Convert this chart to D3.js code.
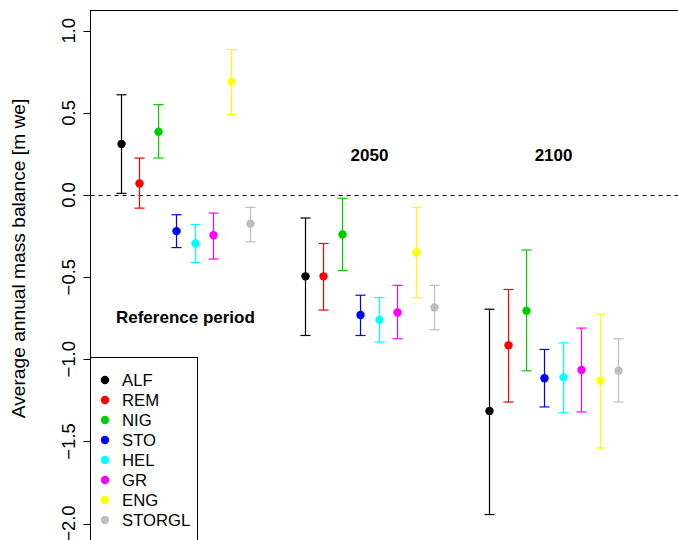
<!DOCTYPE html>
<html>
<head>
<meta charset="utf-8">
<script src="https://cdn.jsdelivr.net/npm/d3@7"></script>
<style>
  html, body { margin: 0; padding: 0; background: #fff; }
  svg { display: block; font-family: "Liberation Sans", Arial, sans-serif; }
</style>
</head>
<body>
<div id="chart"></div>
<script>
// ---- data ----
const glaciers = ["ALF", "REM", "NIG", "STO", "HEL", "GR", "ENG", "STORGL"];
const colors = ["#000000", "#FF0000", "#00CD00", "#0000FF", "#00FFFF", "#FF00FF", "#FFFF00", "#BEBEBE"];
const periods = ["Reference period", "2050", "2100"];

const refMean = [0.31, 0.07, 0.385, -0.22, -0.295, -0.245, 0.69, -0.175];
const refLow  = [0.01, -0.08, 0.225, -0.32, -0.41, -0.39, 0.49, -0.285];
const refHigh = [0.61, 0.225, 0.55, -0.12, -0.18, -0.11, 0.885, -0.075];

const m2050Mean = [-0.495, -0.495, -0.24, -0.73, -0.76, -0.715, -0.35, -0.685];
const m2050Low  = [-0.855, -0.70, -0.46, -0.855, -0.895, -0.875, -0.625, -0.82];
const m2050High = [-0.14, -0.295, -0.02, -0.61, -0.625, -0.55, -0.075, -0.55];

const m2100Mean = [-1.315, -0.915, -0.705, -1.115, -1.11, -1.065, -1.13, -1.07];
const m2100Low  = [-1.945, -1.26, -1.07, -1.29, -1.325, -1.32, -1.54, -1.26];
const m2100High = [-0.695, -0.575, -0.335, -0.94, -0.90, -0.81, -0.725, -0.875];

const yTicks = [1.0, 0.5, 0.0, -0.5, -1.0, -1.5, -2.0];
const yLabel = "Average annual mass balance [m we]";

// ---- build records ----
const means = [refMean, m2050Mean, m2100Mean];
const lows = [refLow, m2050Low, m2100Low];
const highs = [refHigh, m2050High, m2100High];
const records = [];
periods.forEach((p, pi) => {
  glaciers.forEach((g, gi) => {
    records.push({ period: pi, glacier: gi, pos: 1 + 10 * pi + gi,
      mean: means[pi][gi], low: lows[pi][gi], high: highs[pi][gi], color: colors[gi] });
  });
});

// ---- layout ----
const W = 678, H = 540;
const svg = d3.select("#chart").append("svg").attr("width", W).attr("height", H);

const x = d3.scaleLinear().domain([1, 28]).range([121, 618]);
const y = d3.scaleLinear().domain([-2, 1]).range([523.6, 30.7]);

const plotLeft = 90.5, plotTop = 10.5;

// zero dashed line
svg.append("line")
  .attr("x1", plotLeft).attr("x2", W + 10)
  .attr("y1", Math.round(y(0)) + 0.5).attr("y2", Math.round(y(0)) + 0.5)
  .attr("stroke", "#000").attr("stroke-width", 1).attr("stroke-dasharray", "4,4");

// error bars
const capHalf = 5;
const bars = svg.append("g").selectAll("g").data(records).join("g");
bars.append("line")
  .attr("x1", d => Math.round(x(d.pos)) + 0.5).attr("x2", d => Math.round(x(d.pos)) + 0.5)
  .attr("y1", d => y(d.low)).attr("y2", d => y(d.high))
  .attr("stroke", d => d.color).attr("stroke-width", 1.2);
bars.append("line")
  .attr("x1", d => Math.round(x(d.pos)) + 0.5 - capHalf).attr("x2", d => Math.round(x(d.pos)) + 0.5 + capHalf)
  .attr("y1", d => y(d.high)).attr("y2", d => y(d.high))
  .attr("stroke", d => d.color).attr("stroke-width", 1.2);
bars.append("line")
  .attr("x1", d => Math.round(x(d.pos)) + 0.5 - capHalf).attr("x2", d => Math.round(x(d.pos)) + 0.5 + capHalf)
  .attr("y1", d => y(d.low)).attr("y2", d => y(d.low))
  .attr("stroke", d => d.color).attr("stroke-width", 1.2);
bars.append("circle")
  .attr("cx", d => Math.round(x(d.pos)) + 0.5).attr("cy", d => y(d.mean))
  .attr("r", 4.2).attr("fill", d => d.color);

// period labels
const periodLabelY = [-0.745, 0.245, 0.245];
svg.append("g").selectAll("text").data(periods).join("text")
  .attr("x", (d, i) => x(1 + 10 * i + 3.5))
  .attr("y", (d, i) => y(periodLabelY[i]))
  .attr("dy", "0.35em")
  .attr("text-anchor", "middle")
  .attr("font-weight", "bold")
  .attr("font-size", 17)
  .text(d => d);

// y axis ticks
const axisG = svg.append("g");
axisG.selectAll("line").data(yTicks).join("line")
  .attr("x1", plotLeft - 7).attr("x2", plotLeft)
  .attr("y1", d => Math.round(y(d)) + 0.5).attr("y2", d => Math.round(y(d)) + 0.5)
  .attr("stroke", "#000");
axisG.selectAll("text").data(yTicks).join("text")
  .attr("transform", d => `translate(69,${y(d)}) rotate(-90)`)
  .attr("dy", "0.35em")
  .attr("text-anchor", "middle")
  .attr("font-size", 18.5)
  .text(d => d3.format(".1f")(d).replace("-", "\u2212"));

// y label
svg.append("text")
  .attr("transform", `translate(18,258.5) rotate(-90)`)
  .attr("dy", "0.35em")
  .attr("text-anchor", "middle")
  .attr("font-size", 19.2)
  .text(yLabel);

// plot box
svg.append("rect")
  .attr("x", plotLeft).attr("y", plotTop)
  .attr("width", W + 50).attr("height", H + 50)
  .attr("fill", "none").attr("stroke", "#000").attr("stroke-width", 1);

// legend
const legTop = 357.5, legRight = 197.5;
const leg = svg.append("g");
leg.append("rect")
  .attr("x", plotLeft).attr("y", legTop)
  .attr("width", legRight - plotLeft).attr("height", 300)
  .attr("fill", "#fff").attr("stroke", "#000").attr("stroke-width", 1);
const legItems = leg.selectAll("g.item").data(glaciers).join("g").attr("class", "item")
  .attr("transform", (d, i) => `translate(0,${380 + 20 * i})`);
legItems.append("circle").attr("cx", 105).attr("cy", 0).attr("r", 4.2)
  .attr("fill", (d, i) => colors[i]);
legItems.append("text").attr("x", 122).attr("y", 0).attr("dy", "0.35em")
  .attr("font-size", 16.7).text(d => d);
</script>
</body>
</html>
